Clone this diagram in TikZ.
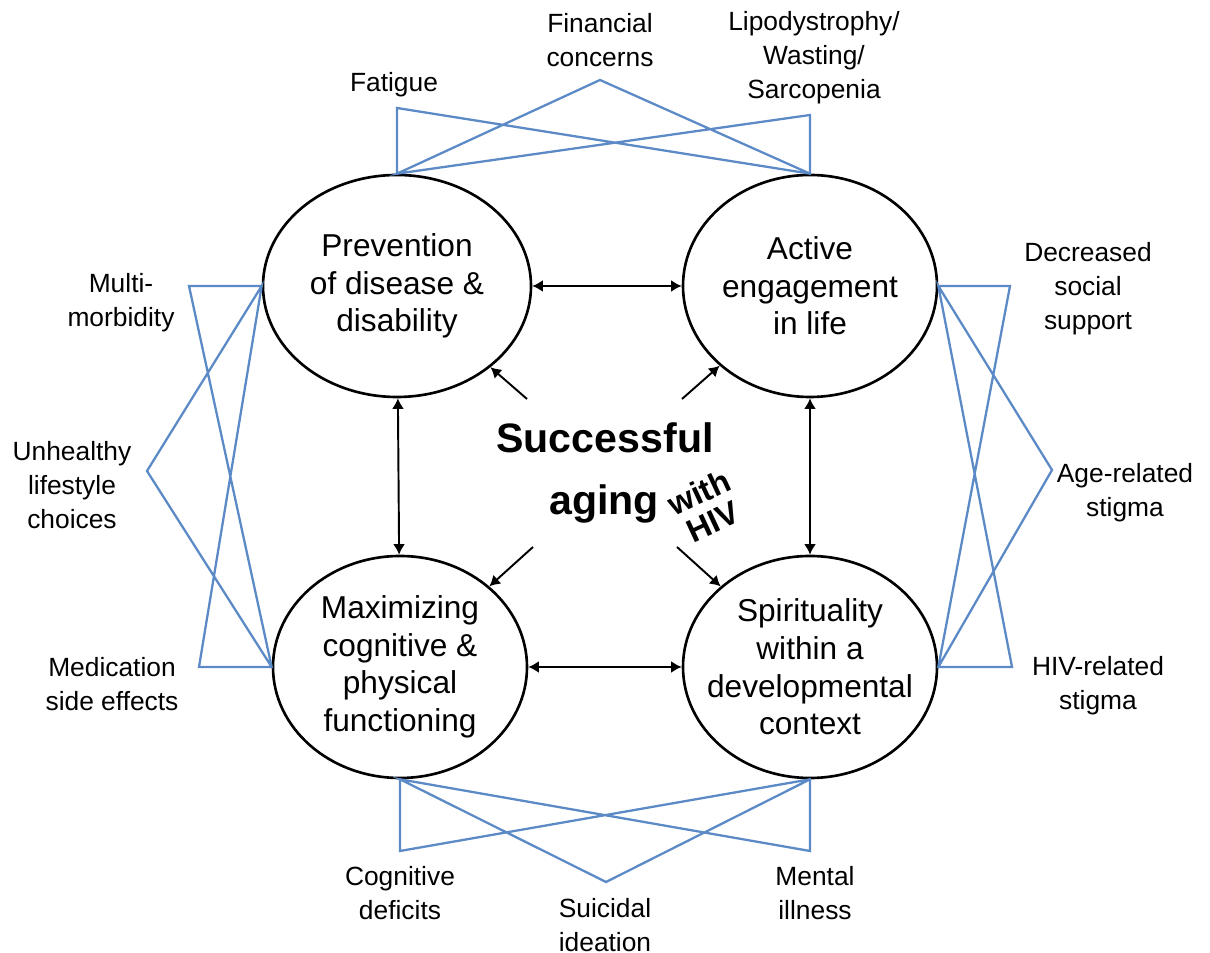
\documentclass[tikz,border=0pt]{standalone}
\usepackage{fontspec}
\setmainfont{Liberation Sans}
\usepackage{xcolor}
\usetikzlibrary{shapes.geometric, arrows.meta}

\definecolor{linkblue}{RGB}{92,138,198}

\tikzset{
  goal/.style={ellipse, draw, line width=0.75pt, minimum width=2.54cm, minimum height=2.22cm, inner sep=0pt},
  goaltext/.style={align=center, font=\fontsize{9}{10.7}\selectfont},
  issue/.style={align=center, font=\fontsize{7.5}{9.7}\selectfont},
  link/.style={draw=linkblue, line width=0.65pt, line join=miter},
  arr/.style={line width=0.55pt, -{Latex[length=3pt,width=3.4pt]}},
  biarr/.style={line width=0.55pt, {Latex[length=3pt,width=3.4pt]}-{Latex[length=3pt,width=3.4pt]}}
}

\begin{document}
\begin{tikzpicture}
  \useasboundingbox (0, 0) rectangle (12.10, 9.53);

  % Four domains
  \node[goal, minimum width=2.68cm] (prev) at (3.97, 6.67) {};
  \node[goaltext] (prevtxt) at (prev) {Prevention\\of disease \&\\disability};
  \node[goal] (act) at (8.10, 6.67) {};
  \node[goaltext] (acttxt) at (act) {Active\\engagement\\in life};
  \node[goal] (max) at (4.00, 2.86) {};
  \node[goaltext] (maxtxt) at (max) {Maximizing\\cognitive \&\\physical\\functioning};
  \node[goal] (spi) at (8.10, 2.86) {};
  \node[goaltext] (spitxt) at (spi) {Spirituality\\within a\\developmental\\context};

  % Centre
  \node[anchor=base, font=\fontsize{11.7}{14}\selectfont\bfseries] (succ) at (6.05, 5.00) {Successful};
  \node[anchor=base, font=\fontsize{11.7}{14}\selectfont\bfseries] (aging) at (6.04, 4.38) {aging};
  \node[rotate=25, align=center, inner sep=0pt, font=\fontsize{9.2}{9.2}\selectfont\bfseries] (hiv) at (7.06, 4.46) {with\\HIV};

  % Arrows between domains
  \draw[biarr] (prev) -- (act);
  \draw[biarr] (max) -- (spi);
  \draw[biarr] (prev) -- (max);
  \draw[biarr] (act) -- (spi);

  % Arrows from centre
  \coordinate (s1) at (5.27, 5.54);
  \coordinate (s2) at (6.82, 5.54);
  \coordinate (s3) at (5.33, 4.06);
  \coordinate (s4) at (6.77, 4.06);
  \draw[arr] (s1) -- (prev);
  \draw[arr] (s2) -- (act);
  \draw[arr] (s3) -- (max);
  \draw[arr] (s4) -- (spi);

  % Top challenges
  \node[issue] (fat) at (3.94, 8.68) {Fatigue};
  \node[issue] (fin) at (6.00, 9.13) {Financial\\concerns};
  \node[issue] (lip) at (8.14, 8.95) {Lipodystrophy/\\Wasting/\\Sarcopenia};
  \coordinate (fatC) at (3.97, 8.45);
  \coordinate (finC) at (6.00, 8.73);
  \coordinate (lipC) at (8.10, 8.38);
  \draw[link] (prev.north) -- (fatC) -- (act.north) -- (lipC) -- (prev.north) -- (finC) -- (act.north);

  % Left challenges
  \node[issue] (mul) at (1.21, 6.50) {Multi-\\morbidity};
  \node[issue] (unh) at (0.72, 4.68) {Unhealthy\\lifestyle\\choices};
  \node[issue] (med) at (1.12, 2.69) {Medication\\side effects};
  \coordinate (mulC) at (1.89, 6.67);
  \coordinate (unhC) at (1.47, 4.82);
  \coordinate (medC) at (1.99, 2.86);
  \draw[link] (prev.west) -- (mulC) -- (max.west) -- (medC) -- (prev.west) -- (unhC) -- (max.west);

  % Right challenges
  \node[issue] (dec) at (10.88, 6.64) {Decreased\\social\\support};
  \node[issue] (age) at (11.25, 4.60) {Age-related\\stigma};
  \node[issue] (hivst) at (10.98, 2.67) {HIV-related\\stigma};
  \coordinate (decC) at (10.10, 6.67);
  \coordinate (ageC) at (10.52, 4.83);
  \coordinate (hivC) at (10.12, 2.86);
  \draw[link] (act.east) -- (decC) -- (spi.east) -- (hivC) -- (act.east) -- (ageC) -- (spi.east);

  % Bottom challenges
  \node[issue] (cog) at (4.00, 0.60) {Cognitive\\deficits};
  \node[issue] (sui) at (6.05, 0.28) {Suicidal\\ideation};
  \node[issue] (men) at (8.15, 0.60) {Mental\\illness};
  \coordinate (cogC) at (4.00, 1.02);
  \coordinate (suiC) at (6.06, 0.71);
  \coordinate (menC) at (8.10, 1.02);
  \draw[link] (max.south) -- (cogC) -- (spi.south) -- (menC) -- (max.south) -- (suiC) -- (spi.south);
\end{tikzpicture}
\end{document}
